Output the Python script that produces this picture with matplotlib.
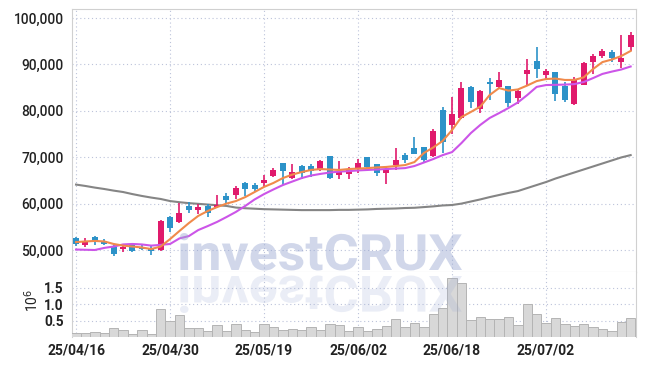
import matplotlib
matplotlib.use("Agg")
import matplotlib.pyplot as plt
import numpy as np
from matplotlib.textpath import TextPath
from matplotlib.font_manager import FontProperties
from matplotlib.patches import PathPatch
from matplotlib.transforms import Affine2D

plt.rcParams['font.family'] = ['Roboto', 'DejaVu Sans']

# --- data ---
tick_pos = [0, 10, 20, 30, 40, 50]
tick_labels = ['25/04/16', '25/04/30', '25/05/19', '25/06/02', '25/06/18', '25/07/02']

opens = [52500, 51150, 52750, 51900, 50700, 50150, 51100, 50700, 50500, 49950,
         57100, 56050, 59500, 58700, 59500, 59350, 61700, 61900, 64350, 64050,
         64500, 66000, 68700, 65600, 68100, 68100, 67250, 70250, 66250, 66450,
         67500, 70000, 68450, 66650, 68400, 70450, 72000, 72200, 70250, 80150,
         76950, 78500, 85200, 80300, 86250, 85200, 85350, 82800, 88000, 90800,
         87800, 88350, 85350, 81400, 85600, 90600, 91850, 92650, 90600, 93800]
highs = [52850, 52500, 52950, 52300, 51100, 50950, 51350, 51100, 50950, 56550,
         57400, 60050, 60400, 59900, 59900, 61850, 62200, 63850, 64650, 64350,
         66150, 67600, 68800, 68450, 68300, 68450, 69400, 70350, 69250, 67950,
         69700, 70050, 68500, 67800, 72050, 70950, 74300, 72200, 76000, 80750,
         82950, 86250, 85350, 84500, 87150, 88400, 85450, 84500, 91100, 93800,
         88950, 88350, 86250, 87350, 90500, 92250, 93250, 93100, 96250, 96900]
lows = [50900, 50700, 51100, 51000, 48650, 49650, 49500, 50000, 48900, 49850,
        53950, 55800, 58050, 57750, 57050, 59000, 59900, 61000, 61700, 62800,
        63650, 65800, 64000, 65300, 65250, 65800, 67100, 65250, 65250, 65300,
        66600, 67450, 65950, 64200, 67250, 68700, 70750, 68700, 70100, 70950,
        75000, 78250, 80550, 79450, 82300, 84650, 80750, 81450, 85550, 87000,
        86650, 82050, 81900, 81200, 85550, 87950, 91300, 90600, 89150, 92900]
closes = [51250, 52000, 51700, 51350, 49050, 50650, 49700, 50300, 49800, 56250,
          54700, 58050, 58600, 59250, 58050, 59700, 60800, 63400, 63150, 63100,
          65100, 67250, 67000, 66750, 66550, 67100, 69200, 65450, 67100, 67250,
          68700, 67800, 66550, 67400, 69400, 69400, 70750, 69400, 75650, 73350,
          79300, 84850, 81950, 84250, 85850, 86650, 81750, 84250, 88800, 89050,
          88550, 83700, 82300, 86650, 90300, 91800, 92900, 91450, 91400, 96400]

ma_short = [51700, 51850, 51950, 51850, 51300, 50950, 50750, 50550, 50200, 50750,
            52350, 54100, 55800, 57350, 58400, 59250, 60000, 60550, 61400, 62500,
            63600, 64450, 65500, 66250, 66800, 67250, 67450, 67350, 67250, 67450,
            67550, 67650, 67800, 67900, 68100, 68300, 68950, 70900, 72100, 73500,
            75850, 78650, 79750, 80900, 83400, 84900, 84350, 84600, 85450, 86400,
            86850, 86950, 86650, 86650, 87200, 89000, 90500, 91050, 91800, 92900]
ma_mid = [50100, 50050, 50000, 50450, 50750, 51200, 51300, 51200, 50950, 51100,
          51300, 52500, 53000, 54300, 55150, 56050, 57100, 58200, 59500, 60900,
          62050, 63050, 64000, 64750, 65500, 66050, 66400, 66700, 66900, 67000,
          67150, 67250, 67350, 67450, 67550, 67650, 68100, 68850, 69600, 70450,
          71100, 73050, 75200, 76950, 78450, 79500, 80600, 81800, 83400, 85150,
          85550, 85600, 85650, 85750, 86200, 87050, 87950, 88450, 88900, 89550]
ma_long = [64100, 63800, 63450, 63150, 62800, 62500, 62050, 61650, 61300, 61000,
           60550, 60300, 60100, 59950, 59800, 59650, 59500, 59150, 59000, 58900,
           58800, 58750, 58700, 58650, 58600, 58600, 58600, 58600, 58650, 58650,
           58700, 58750, 58850, 58900, 58950, 59050, 59100, 59250, 59400, 59600,
           59700, 60000, 60450, 60900, 61400, 61850, 62300, 62700, 63350, 64000,
           64650, 65400, 66050, 66700, 67350, 68000, 68650, 69300, 69950, 70450]

volume = [0.13, 0.13, 0.16, 0.13, 0.28, 0.22, 0.10, 0.22, 0.10, 0.86,
          0.48, 0.67, 0.28, 0.28, 0.19, 0.38, 0.18, 0.40, 0.22, 0.16,
          0.41, 0.31, 0.22, 0.25, 0.22, 0.31, 0.22, 0.40, 0.37, 0.19,
          0.31, 0.19, 0.25, 0.34, 0.55, 0.31, 0.43, 0.31, 0.71, 0.89,
          1.79, 1.64, 0.52, 0.61, 0.55, 0.55, 0.61, 0.37, 1.01, 0.70,
          0.43, 0.58, 0.40, 0.34, 0.40, 0.31, 0.25, 0.19, 0.46, 0.58]

UP = '#e01a6c'
DOWN = '#2c92c8'
GRID = '#bcc3da'
SPINE = '#d0d0d0'

W, H = 645, 366
fig = plt.figure(figsize=(W / 100, H / 100), dpi=100)
ax = fig.add_axes([72 / W, 1 - 272 / H, (636 - 72) / W, (272 - 9) / H])
axv = fig.add_axes([72 / W, 1 - 337 / H, (636 - 72) / W, (337 - 272) / H], sharex=ax)

x = np.arange(len(opens))

# candles
for i in x:
    o, h, l, c = opens[i], highs[i], lows[i], closes[i]
    col = UP if c >= o else DOWN
    ax.vlines(i, l, h, color=col, lw=1.2, zorder=3)
    body = max(abs(c - o), 150)
    ax.bar(i, body, bottom=min(o, c), width=0.64, color=col, zorder=4)

ax.plot(x, ma_long, color='#858585', lw=1.5, zorder=2)
ax.plot(x, ma_mid, color='#cc55e8', lw=1.5, zorder=5)
ax.plot(x, ma_short, color='#f08a4b', lw=1.5, zorder=6)

ax.set_xlim(-0.43, len(opens) - 0.43)
ax.set_ylim(45260, 101940)
ax.set_yticks(range(50000, 100001, 10000))
ax.set_yticklabels([f'{v:,}' for v in range(50000, 100001, 10000)])
ax.set_xticks(tick_pos)
ax.tick_params(axis='x', labelbottom=False, length=0)
ax.tick_params(axis='y', length=0, pad=6, labelsize=9.8, labelcolor='#222222')
for lab in ax.get_yticklabels():
    lab.set_fontweight('medium')
ax.grid(True, ls=(0, (1, 2.5)), color=GRID, lw=0.8)
ax.set_axisbelow(True)
for s in ax.spines.values():
    s.set_color(SPINE)

# volume
axv.bar(x, volume, width=1.0, color='#d8d8d8', edgecolor='#b4b4b4', lw=0.7, zorder=3)
axv.set_ylim(0, 1.98)
axv.set_yticks([0.5, 1.0, 1.5])
axv.set_yticklabels(['0.5', '1.0', '1.5'])
axv.set_xticks(tick_pos)
axv.set_xticklabels(tick_labels)
axv.tick_params(axis='y', length=0, pad=6, labelsize=9.8, labelcolor='#222222')
axv.tick_params(axis='x', length=0, pad=5, labelsize=10, labelcolor='#222222')
for lab in axv.get_xticklabels() + axv.get_yticklabels():
    lab.set_fontweight('bold')
axv.grid(True, ls=(0, (1, 2.5)), color=GRID, lw=0.8)
axv.set_axisbelow(True)
for s in axv.spines.values():
    s.set_color(SPINE)
axv.spines['top'].set_visible(False)
axv.spines['bottom'].set_visible(False)

fig.text(32 / W, 1 - 300 / H, r'10$^6$', rotation=90, ha='center', va='center',
         fontsize=10, color='#222222')

# watermark with reflection
tp = TextPath((0, 0), 'investCRUX', size=1,
              prop=FontProperties(family=['Roboto', 'DejaVu Sans'], weight='bold'))
bb = tp.get_extents()
sx = (462 - 180) / bb.width
sy = 37 / bb.y1
x0 = 180 - bb.x0 * sx
main_tr = Affine2D().scale(sx / 100, sy / 100).translate(x0 / 100, (H - 270) / 100) + fig.dpi_scale_trans
refl_tr = Affine2D().scale(sx / 100, -sy / 100).translate(x0 / 100, (H - 276) / 100) + fig.dpi_scale_trans
fig.patches.append(PathPatch(tp, transform=main_tr, facecolor='#9aa8d2', edgecolor='none',
                             alpha=0.45, zorder=10))
fig.patches.append(PathPatch(tp, transform=refl_tr, facecolor='#9aa8d2', edgecolor='none',
                             alpha=0.2, zorder=10))

fig.savefig('out.png', dpi=100)
